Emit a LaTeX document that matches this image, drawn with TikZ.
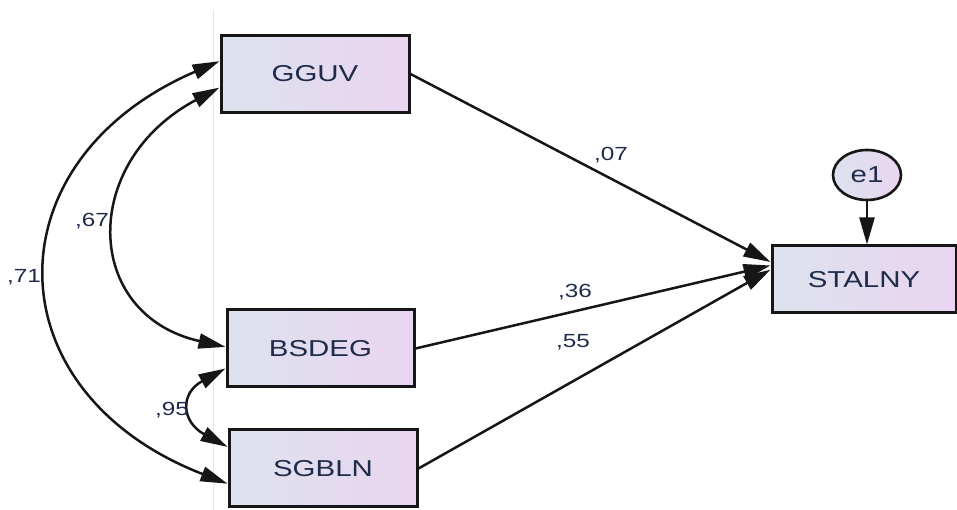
\documentclass[tikz,border=0pt]{standalone}
\usepackage{fontspec}
\setmainfont{Liberation Sans}
\usepackage{graphicx}
\usetikzlibrary{arrows.meta,calc,shapes.geometric}
\definecolor{boxl}{HTML}{DCE2EE}
\definecolor{boxr}{HTML}{EAD5F0}
\definecolor{txt}{HTML}{1E2B4A}
\definecolor{frame}{HTML}{161616}
\definecolor{guideline}{HTML}{E6E6E6}
\newcommand\wide[1]{\scalebox{1.28}[1]{#1}}
\tikzset{
  var/.style={draw=frame, line width=3pt, left color=boxl, right color=boxr,
    minimum width=188pt, minimum height=77pt, inner sep=0pt,
    font=\fontsize{23}{23}\selectfont, text=txt},
  err/.style={draw=frame, line width=2.6pt, ellipse, left color=boxl, right color=boxr,
    minimum width=68pt, minimum height=50pt, inner sep=0pt,
    font=\fontsize{23}{23}\selectfont, text=txt},
  tip/.tip={Triangle[length=27pt,width=15pt]},
  conn/.style={draw=frame, line width=2.5pt, -tip},
  cov/.style={draw=frame, line width=2.5pt, tip-tip},
  lab/.style={font=\fontsize{19}{19}\selectfont, text=txt, inner sep=0pt},
  guide/.style={draw=guideline, line width=1pt}
}
\begin{document}
\begin{tikzpicture}[x=1pt,y=1pt]
\useasboundingbox (0,0) rectangle (957,510);
\coordinate (gt) at (213,500);
\coordinate (gb) at (213,0);
\draw[guide] (gt) -- (gb);
\node[var] (g) at (315,436) {\wide{GGUV}};
\node[var, minimum width=187pt] (b) at (320.5,161.5) {\wide{BSDEG}};
\node[var] (s) at (323,41.5) {\wide{SGBLN}};
\node[var, minimum width=184pt, minimum height=67pt] (y) at (864,230.5) {\wide{STALNY}};
\node[err] (e) at (867,335) {\wide{e1}};
\coordinate (g1) at ($(g.north west)!0.34!(g.south west)$);
\coordinate (g2) at ($(g.north west)!0.67!(g.south west)$);
\coordinate (b1) at ($(b.north west)!0.48!(b.south west)$);
\coordinate (b2) at ($(b.north west)!0.75!(b.south west)$);
\coordinate (s1) at ($(s.north west)!0.23!(s.south west)$);
\coordinate (s2) at ($(s.north west)!0.69!(s.south west)$);
\coordinate (y1) at ($(y.north west)!0.25!(y.south west)$);
\coordinate (y2) at ($(y.north west)!0.30!(y.south west)$);
\coordinate (y3) at ($(y.north west)!0.36!(y.south west)$);
\draw[conn] (g.east) -- (y1);
\draw[conn] (b.east) -- (y2);
\draw[conn] (s.east) -- (y3);
\draw[conn] (e.south) -- (e.south |- y.north);
\draw[cov] (g1) .. controls +(-230,-99) and +(-237,92) .. (s2);
\draw[cov] (g2) .. controls +(-140,-74) and +(-143,32) .. (b1);
\draw[cov] (b2) .. controls +(-46,-25) and +(-46,25) .. (s1);
\node[lab] (l07) at (611,355) {\wide{,07}};
\node[lab] (l36) at (575,218) {\wide{,36}};
\node[lab] (l55) at (573,168) {\wide{,55}};
\node[lab] (l67) at (92,289) {\wide{,67}};
\node[lab] (l71) at (24,233) {\wide{,71}};
\node[lab] (l95) at (172,100) {\wide{,95}};
\end{tikzpicture}
\end{document}
